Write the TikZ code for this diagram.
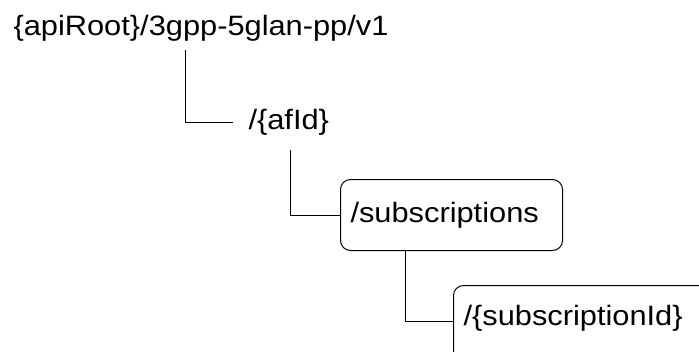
\documentclass[tikz,border=0pt]{standalone}
\usepackage{fontspec}
\setmainfont{Liberation Sans}[FakeStretch=1.1]
\begin{document}
\begin{tikzpicture}[x=1pt,y=-1pt, line width=1pt,
  font=\fontsize{28}{34}\selectfont,
  lbl/.style={anchor=base west, inner sep=0pt},
  box/.style={draw, rounded corners=10pt, anchor=north west, align=left, inner xsep=10pt, inner ysep=10pt}]
\useasboundingbox (0,0) rectangle (699,351);
\clip (0,0) rectangle (699,351);
\node[lbl] (root) at (13,35) {\{apiRoot\}/3gpp-5glan-pp/v1};
\node[lbl] (afid) at (248,129) {/\{afId\}};
\node[box, text width=202pt, text height=33pt, text depth=18pt] (sub) at (340,179) {/subscriptions};
\node[box, text width=300pt, text height=30pt, text depth=80pt] (sid) at (453,285) {/\{subscriptionId\}};
\coordinate (a1) at (185,50);
\coordinate (a2) at (233,122);
\draw (a1) |- (a2);
\coordinate (b1) at (290,150);
\draw (b1) |- (sub.west);
\coordinate (c2) at (453,321);
\draw ([xshift=65pt]sub.south west) |- (c2);
\end{tikzpicture}
\end{document}
